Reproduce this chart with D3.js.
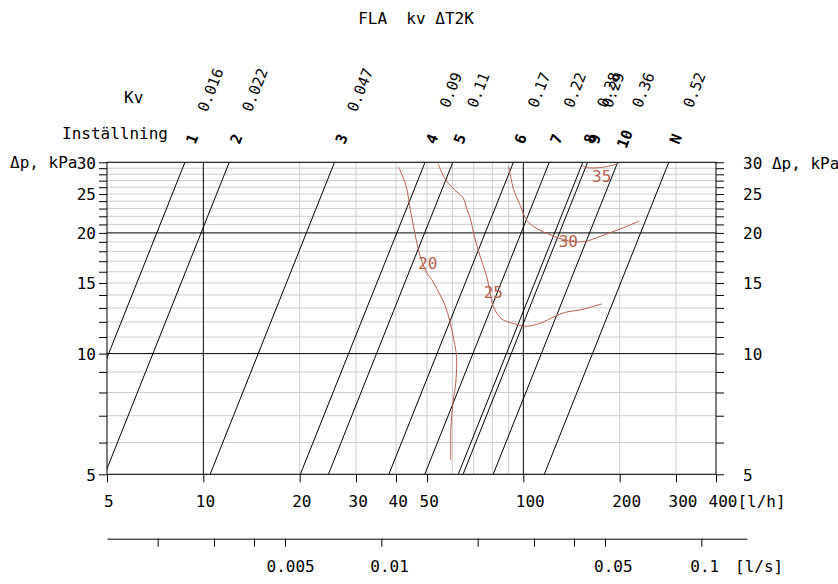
<!DOCTYPE html>
<html>
<head>
<meta charset="utf-8">
<script src="https://cdn.jsdelivr.net/npm/d3@7"></script>
<style>
  body { margin: 0; background: #fff; }
  svg { display: block; }
  text { font-family: "DejaVu Sans Mono", monospace; }
</style>
</head>
<body>
<svg width="838" height="584"></svg>
<script>
// Kv-linjer (inställning + Kv), flöde i l/h vid 5 och 30 kPa
const settings = ["1", "2", "3", "4", "5", "6", "7", "8", "9", "10", "N"];
const kvLabels = ["0.016", "0.022", "0.047", "0.09", "0.11", "0.17", "0.22", "0.28", "0.29", "0.36", "0.52"];
const flowAt5 = [3.58, 4.92, 10.5, 20.1, 24.6, 38.0, 49.2, 62.6, 64.8, 80.5, 116.3];
const flowAt30 = [8.76, 12.05, 25.7, 49.3, 60.2, 93.1, 120.5, 153.4, 158.8, 197.2, 284.8];

// axlar
const flowTicks = [5, 10, 20, 30, 40, 50, 100, 200, 300, 400];
const dpTicks = d3.range(5, 31);
const dpLabels = [5, 10, 15, 20, 25, 30];
const lsTicks = [0.002, 0.003, 0.004, 0.005, 0.01, 0.02, 0.03, 0.04, 0.05, 0.1];
const lsLabels = [0.005, 0.01, 0.05, 0.1];
const gridFlowGray = [20, 30, 40, 50, 60, 70, 80, 90, 200, 300];
const gridFlowBlack = [10, 100];
const gridDpBlack = [10, 20];

// temperaturkurvor [flöde l/h, dp kPa]
const curveNames = ["20", "25", "30", "35"];
const curve20 = [[40.7, 29.2], [42.2, 27.4], [43.2, 25.8], [44.3, 23.0], [45.3, 20.9], [46.4, 19.0], [47.5, 17.6],
  [49.9, 15.9], [51.7, 15.3], [54.2, 14.3], [56.9, 13.2], [59.0, 12.0], [60.4, 11.0], [61.6, 10.1], [61.9, 9.45],
  [61.4, 8.35], [60.4, 7.66], [59.4, 6.57], [59.3, 5.92], [59.3, 5.43]];
const curve25 = [[54.2, 29.7], [56.9, 27.3], [60.4, 25.8], [64.9, 24.4], [66.5, 23.0], [68.2, 21.8], [69.8, 20.1],
  [72.3, 18.1], [74.3, 16.9], [76.9, 15.55], [78.4, 14.4], [80.6, 13.1], [85.6, 12.2], [93.0, 11.9], [101.2, 11.7],
  [112.8, 11.9], [125.6, 12.4], [136.6, 12.7], [150.4, 12.85], [175.7, 13.3]];
const curve30 = [[89.9, 29.3], [91.5, 27.4], [93.0, 25.8], [97.6, 23.5], [102.5, 21.5], [110.1, 20.5], [121.2, 19.8],
  [138.2, 19.1], [155.9, 19.05], [173.6, 19.6], [195.8, 20.3], [230.4, 21.4]];
const curve35 = [[152.2, 29.5], [157.8, 29.1], [173.6, 29.1], [186.6, 29.4], [196.6, 29.7]];
const curveLabelPos = [[50.3, 16.8], [80.6, 14.2], [138.2, 19.05], [175.7, 27.6]];

const red = "#b5614a";
const svg = d3.select("svg");

const x = d3.scaleLog().domain([5, 400]).range([107, 716]);
const y = d3.scaleLog().domain([5, 30]).range([474.3, 162.3]);
const xs = d3.scaleLog().domain([5 / 3600, 500 / 3600]).range([107, 747]);

// rutnät
svg.append("g").selectAll("line").data(gridFlowGray).join("line")
  .attr("x1", d => x(d)).attr("x2", d => x(d)).attr("y1", y(5)).attr("y2", y(30))
  .attr("stroke", "#cccccc");
svg.append("g").selectAll("line").data(dpTicks.filter(d => !gridDpBlack.includes(d))).join("line")
  .attr("x1", x(5)).attr("x2", x(400)).attr("y1", d => y(d)).attr("y2", d => y(d))
  .attr("stroke", "#cccccc");
svg.append("g").selectAll("line").data(gridFlowBlack).join("line")
  .attr("x1", d => x(d)).attr("x2", d => x(d)).attr("y1", y(5)).attr("y2", y(30))
  .attr("stroke", "#000");
svg.append("g").selectAll("line").data(gridDpBlack).join("line")
  .attr("x1", x(5)).attr("x2", x(400)).attr("y1", d => y(d)).attr("y2", d => y(d))
  .attr("stroke", "#000");

svg.append("clipPath").attr("id", "plot").append("rect")
  .attr("x", x(5)).attr("y", y(30))
  .attr("width", x(400) - x(5)).attr("height", y(5) - y(30));

// Kv-linjer
svg.append("g").attr("clip-path", "url(#plot)")
  .selectAll("line").data(flowAt5).join("line")
  .attr("x1", d => x(d)).attr("y1", y(5))
  .attr("x2", (d, i) => x(flowAt30[i])).attr("y2", y(30))
  .attr("stroke", "#000").attr("stroke-width", 1);

// kurvor
const line = d3.line().x(d => x(d[0])).y(d => y(d[1])).curve(d3.curveCatmullRom.alpha(0.5));
svg.append("g").attr("clip-path", "url(#plot)")
  .selectAll("path").data([curve20, curve25, curve30, curve35]).join("path")
  .attr("d", line).attr("fill", "none").attr("stroke", red).attr("stroke-width", 1);
svg.append("g").selectAll("text").data(curveNames).join("text")
  .attr("x", (d, i) => x(curveLabelPos[i][0]))
  .attr("y", (d, i) => y(curveLabelPos[i][1]))
  .attr("text-anchor", "middle").attr("dominant-baseline", "central")
  .attr("font-size", 16).attr("fill", red)
  .text(d => d);

// ram
svg.append("rect").attr("x", x(5)).attr("y", y(30))
  .attr("width", x(400) - x(5)).attr("height", y(5) - y(30))
  .attr("fill", "none").attr("stroke", "#000");

// etiketter längs linjernas förlängning
function flowAtDp(i, p) {
  const t = Math.log(p / 5) / Math.log(30 / 5);
  return Math.exp(Math.log(flowAt5[i]) + t * (Math.log(flowAt30[i]) - Math.log(flowAt5[i])));
}
const angle = Math.atan2(y(30) - y(5), x(flowAt30[0]) - x(flowAt5[0])) * 180 / Math.PI;
const kvDp = y.invert(90), setDp = y.invert(139);

svg.append("g").selectAll("text").data(kvLabels).join("text")
  .attr("transform", (d, i) => `translate(${x(flowAtDp(i, kvDp)) - 3},90) rotate(${angle})`)
  .attr("text-anchor", "middle").attr("dominant-baseline", "central")
  .attr("font-size", 15)
  .text(d => d);
svg.append("g").selectAll("text").data(settings).join("text")
  .attr("transform", (d, i) => `translate(${x(flowAtDp(i, setDp)) - 2},139) rotate(${angle})`)
  .attr("text-anchor", "middle").attr("dominant-baseline", "central")
  .attr("font-size", 15).attr("font-weight", "bold")
  .text(d => d);

svg.append("text").attr("x", 124).attr("y", 103.4).attr("font-size", 16).text("Kv");
svg.append("text").attr("x", 62).attr("y", 139).attr("font-size", 16).text("Inställning");

// titel
svg.append("text").attr("x", 416).attr("y", 24).attr("text-anchor", "middle")
  .attr("font-size", 16).style("white-space", "pre").text("FLA  kv ΔT2K");

// x-axel l/h
const gx = svg.append("g").attr("transform", `translate(0,${y(5)})`)
  .call(d3.axisBottom(x).tickValues(flowTicks).tickSize(8).tickSizeOuter(0)
    .tickFormat(d => d === 400 ? "400[l/h]" : String(d)));
gx.select(".domain").remove();
gx.attr("font-size", 16).attr("font-family", "DejaVu Sans Mono");
gx.selectAll("text").attr("y", 27).attr("dy", "0.36em").attr("text-anchor", "start")
  .attr("x", function () { return this.textContent.length > 1 ? -8 : -3.5; });

// y-axel vänster
const gl = svg.append("g").attr("transform", `translate(${x(5)},0)`)
  .call(d3.axisLeft(y).tickValues(dpTicks).tickSize(8).tickPadding(3)
    .tickFormat(d => dpLabels.includes(d) ? String(d) : ""));
gl.select(".domain").remove();
gl.attr("font-size", 16).attr("font-family", "DejaVu Sans Mono");
gl.selectAll("text").attr("dy", "0.36em");
svg.append("text").attr("x", 10).attr("y", y(30) + 5.5).attr("font-size", 16).text("Δp, kPa");

// y-axel höger
const gr = svg.append("g").attr("transform", `translate(${x(400)},0)`)
  .call(d3.axisRight(y).tickValues(dpTicks).tickSize(8).tickPadding(19)
    .tickFormat(d => d === 30 ? "30 Δp, kPa" : (dpLabels.includes(d) ? String(d) : "")));
gr.select(".domain").remove();
gr.attr("font-size", 16).attr("font-family", "DejaVu Sans Mono");
gr.selectAll("text").attr("dy", "0.36em");

// x-axel l/s
const gs = svg.append("g").attr("transform", "translate(0,538.7)")
  .call(d3.axisBottom(xs).tickValues(lsTicks).tickSize(8).tickSizeOuter(0)
    .tickFormat(d => lsLabels.includes(d) ? String(d) : ""));
gs.attr("font-size", 16).attr("font-family", "DejaVu Sans Mono");
gs.selectAll("text").attr("y", 28).attr("dy", "0.36em").attr("text-anchor", "start")
  .attr("x", function () { return this.textContent.length > 4 ? -19 : -11.5; });
svg.append("text").attr("x", 735).attr("y", 538.7 + 28).attr("dy", "0.36em")
  .attr("font-size", 16).text("[l/s]");
</script>
</body>
</html>
